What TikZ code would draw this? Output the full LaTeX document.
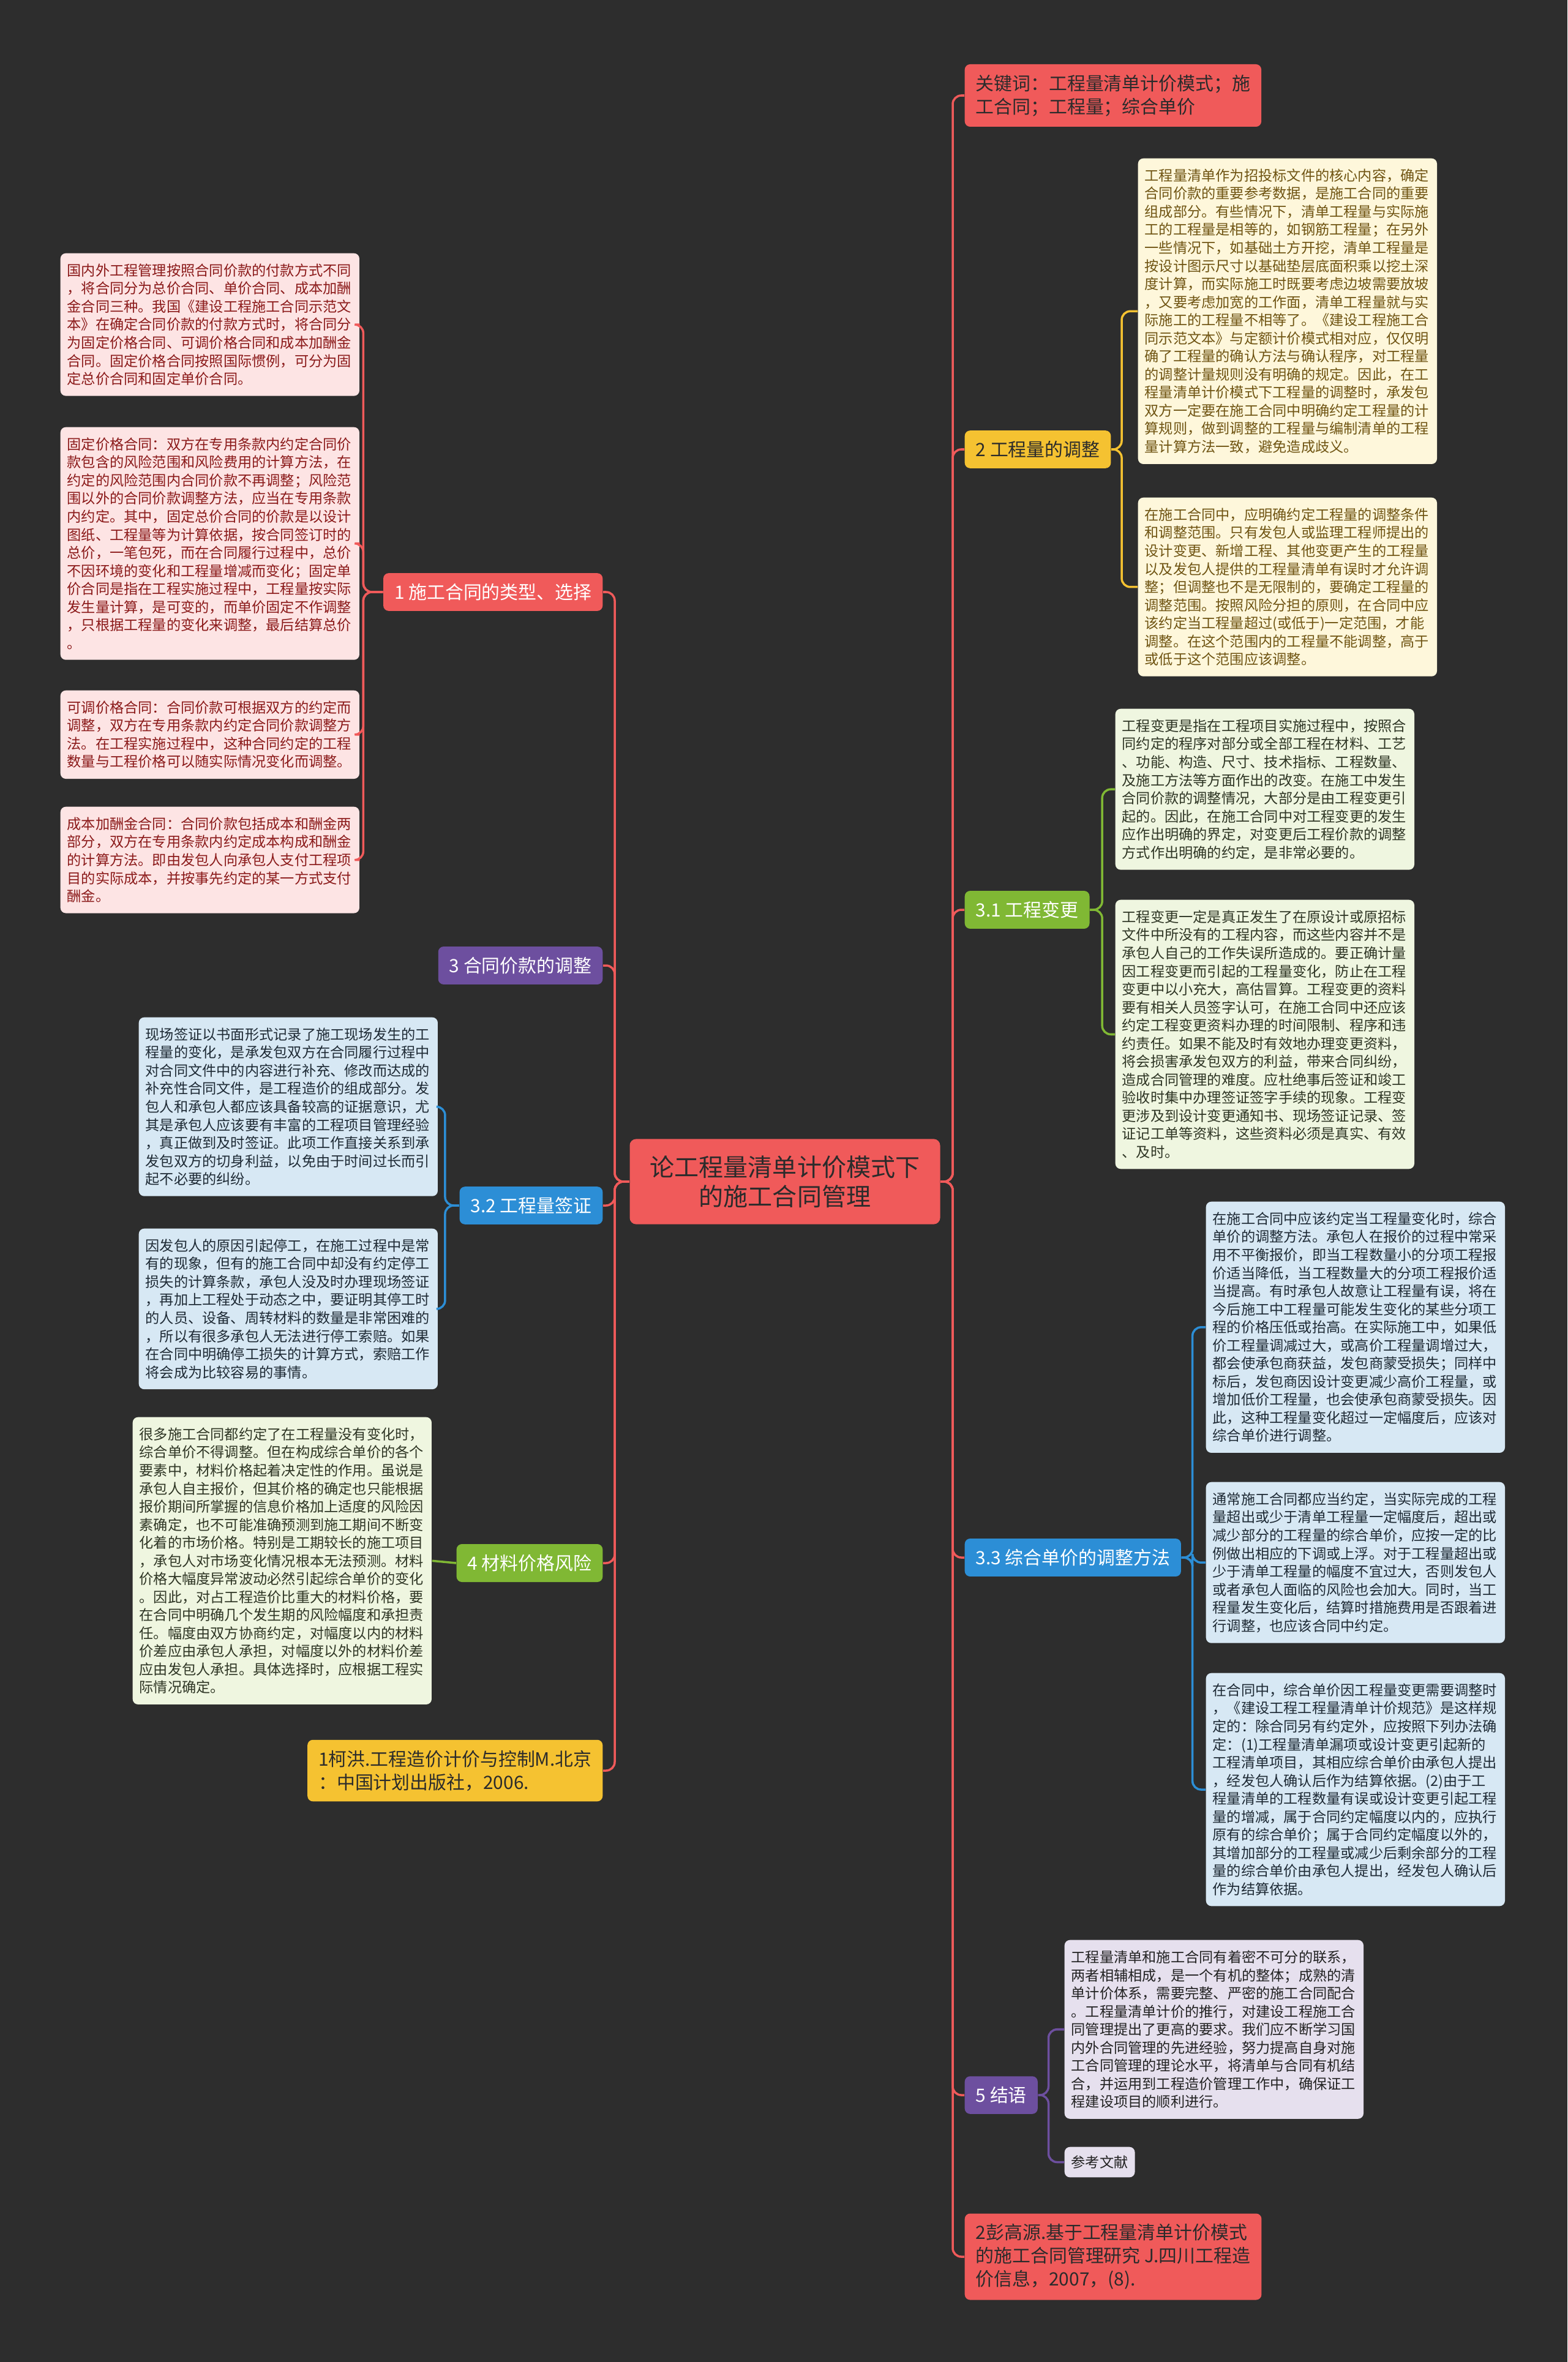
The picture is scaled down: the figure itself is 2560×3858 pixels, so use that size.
\documentclass[tikz,border=0pt]{standalone}
\usepackage{fontspec}
\usepackage{xcolor}
\usepackage{tikz}
\newfontfamily\cjk{Noto Sans CJK SC}
\definecolor{bgdark}{HTML}{2D2D2D}
\definecolor{darktext}{HTML}{2B2B2B}
\definecolor{redmain}{HTML}{F05A5A}
\definecolor{yellowmain}{HTML}{F5C231}
\definecolor{greenmain}{HTML}{80B834}
\definecolor{bluemain}{HTML}{2C8ED6}
\definecolor{purplemain}{HTML}{6D4F9F}
\definecolor{redleaf}{HTML}{FDE4E4}
\definecolor{redink}{HTML}{8B1A1A}
\definecolor{yellowleaf}{HTML}{FEF7DB}
\definecolor{yellowink}{HTML}{6F5412}
\definecolor{greenleaf}{HTML}{EFF6E0}
\definecolor{greenink}{HTML}{2E3524}
\definecolor{blueleaf}{HTML}{D7E8F4}
\definecolor{blueink}{HTML}{1E2A35}
\definecolor{purpleleaf}{HTML}{E6E0EE}
\definecolor{purpleink}{HTML}{222222}

\begin{document}
\begin{tikzpicture}[x=0.01cm,y=-0.01cm]
	 \tikzstyle{topic}=[rectangle,rounded corners=3pt,fill=redmain,text=darktext,align=center,inner xsep=0.33cm,inner ysep=0.27cm,font=\cjk\fontsize{11.4}{13.7}\selectfont]
	 \tikzstyle{branch}=[rectangle,rounded corners=2.5pt,text=white,align=left,inner xsep=0.18cm,inner ysep=0.17cm,font=\cjk\fontsize{8.5}{10.8}\selectfont]
	 \tikzstyle{leaf}=[rectangle,rounded corners=2.5pt,anchor=north west,align=left,text width=4.66cm,inner xsep=0.11cm,inner ysep=0.17cm,font=\cjk\fontsize{6.6}{8.4}\selectfont]
	 \tikzstyle{tag}=[rectangle,rounded corners=2.5pt,anchor=north west,inner xsep=0.11cm,inner ysep=0.14cm,font=\cjk\fontsize{6.6}{8.4}\selectfont]
	 \tikzstyle{edge}=[draw,line width=1pt,rounded corners=4pt]
	 \fill[bgdark] (0,0) rectangle (2560,3858);
	 \useasboundingbox (0,0) rectangle (2560,3858);
	 % centre
	 \node[topic] (root) at (1282,1930) {论工程量清单计价模式下\\的施工合同管理};
	 \coordinate (rs) at (1556,1930);
	 \coordinate (ls) at (1004,1930);
	 % right side
	 \node[branch,fill=redmain,text=darktext,anchor=west] (kw) at (1575,156) {关键词：工程量清单计价模式；施\\工合同；工程量；综合单价};
	 \node[branch,fill=yellowmain,text=darktext,anchor=west] (b2) at (1575,734) {2 工程量的调整};
	 \node[branch,fill=greenmain,anchor=west] (b31) at (1575,1486) {3.1 工程变更};
	 \node[branch,fill=bluemain,anchor=west] (b33) at (1575,2544) {3.3 综合单价的调整方法};
	 \node[branch,fill=purplemain,anchor=west] (b5) at (1575,3422) {5 结语};
	 \node[branch,fill=redmain,text=darktext,anchor=west] (r2) at (1575,3686) {2彭高源.基于工程量清单计价模式\\的施工合同管理研究 J.四川工程造\\价信息，2007，(8).};
	 \node[leaf,fill=yellowleaf,text=yellowink] (b2a) at (1858,258) {工程量清单作为招投标文件的核心内容，确定\\合同价款的重要参考数据，是施工合同的重要\\组成部分。有些情况下，清单工程量与实际施\\工的工程量是相等的，如钢筋工程量；在另外\\一些情况下，如基础土方开挖，清单工程量是\\按设计图示尺寸以基础垫层底面积乘以挖土深\\度计算，而实际施工时既要考虑边坡需要放坡\\，又要考虑加宽的工作面，清单工程量就与实\\际施工的工程量不相等了。《建设工程施工合\\同示范文本》与定额计价模式相对应，仅仅明\\确了工程量的确认方法与确认程序，对工程量\\的调整计量规则没有明确的规定。因此，在工\\程量清单计价模式下工程量的调整时，承发包\\双方一定要在施工合同中明确约定工程量的计\\算规则，做到调整的工程量与编制清单的工程\\量计算方法一致，避免造成歧义。};
	 \node[leaf,fill=yellowleaf,text=yellowink] (b2b) at (1858,812) {在施工合同中，应明确约定工程量的调整条件\\和调整范围。只有发包人或监理工程师提出的\\设计变更、新增工程、其他变更产生的工程量\\以及发包人提供的工程量清单有误时才允许调\\整；但调整也不是无限制的，要确定工程量的\\调整范围。按照风险分担的原则，在合同中应\\该约定当工程量超过(或低于)一定范围，才能\\调整。在这个范围内的工程量不能调整，高于\\或低于这个范围应该调整。};
	 \node[leaf,fill=greenleaf,text=greenink] (b31a) at (1821,1157) {工程变更是指在工程项目实施过程中，按照合\\同约定的程序对部分或全部工程在材料、工艺\\、功能、构造、尺寸、技术指标、工程数量、\\及施工方法等方面作出的改变。在施工中发生\\合同价款的调整情况，大部分是由工程变更引\\起的。因此，在施工合同中对工程变更的发生\\应作出明确的界定，对变更后工程价款的调整\\方式作出明确的约定，是非常必要的。};
	 \node[leaf,fill=greenleaf,text=greenink] (b31b) at (1821,1469) {工程变更一定是真正发生了在原设计或原招标\\文件中所没有的工程内容，而这些内容并不是\\承包人自己的工作失误所造成的。要正确计量\\因工程变更而引起的工程量变化，防止在工程\\变更中以小充大，高估冒算。工程变更的资料\\要有相关人员签字认可，在施工合同中还应该\\约定工程变更资料办理的时间限制、程序和违\\约责任。如果不能及时有效地办理变更资料，\\将会损害承发包双方的利益，带来合同纠纷，\\造成合同管理的难度。应杜绝事后签证和竣工\\验收时集中办理签证签字手续的现象。工程变\\更涉及到设计变更通知书、现场签证记录、签\\证记工单等资料，这些资料必须是真实、有效\\、及时。};
	 \node[leaf,fill=blueleaf,text=blueink] (b33a) at (1969,1962) {在施工合同中应该约定当工程量变化时，综合\\单价的调整方法。承包人在报价的过程中常采\\用不平衡报价，即当工程数量小的分项工程报\\价适当降低，当工程数量大的分项工程报价适\\当提高。有时承包人故意让工程量有误，将在\\今后施工中工程量可能发生变化的某些分项工\\程的价格压低或抬高。在实际施工中，如果低\\价工程量调减过大，或高价工程量调增过大，\\都会使承包商获益，发包商蒙受损失；同样中\\标后，发包商因设计变更减少高价工程量，或\\增加低价工程量，也会使承包商蒙受损失。因\\此，这种工程量变化超过一定幅度后，应该对\\综合单价进行调整。};
	 \node[leaf,fill=blueleaf,text=blueink] (b33b) at (1969,2420) {通常施工合同都应当约定，当实际完成的工程\\量超出或少于清单工程量一定幅度后，超出或\\减少部分的工程量的综合单价，应按一定的比\\例做出相应的下调或上浮。对于工程量超出或\\少于清单工程量的幅度不宜过大，否则发包人\\或者承包人面临的风险也会加大。同时，当工\\程量发生变化后，结算时措施费用是否跟着进\\行调整，也应该合同中约定。};
	 \node[leaf,fill=blueleaf,text=blueink] (b33c) at (1969,2732) {在合同中，综合单价因工程量变更需要调整时\\，《建设工程工程量清单计价规范》是这样规\\定的：除合同另有约定外，应按照下列办法确\\定：(1)工程量清单漏项或设计变更引起新的\\工程清单项目，其相应综合单价由承包人提出\\，经发包人确认后作为结算依据。(2)由于工\\程量清单的工程数量有误或设计变更引起工程\\量的增减，属于合同约定幅度以内的，应执行\\原有的综合单价；属于合同约定幅度以外的，\\其增加部分的工程量或减少后剩余部分的工程\\量的综合单价由承包人提出，经发包人确认后\\作为结算依据。};
	 \node[leaf,fill=purpleleaf,text=purpleink] (b5a) at (1738,3168) {工程量清单和施工合同有着密不可分的联系，\\两者相辅相成，是一个有机的整体；成熟的清\\单计价体系，需要完整、严密的施工合同配合\\。工程量清单计价的推行，对建设工程施工合\\同管理提出了更高的要求。我们应不断学习国\\内外合同管理的先进经验，努力提高自身对施\\工合同管理的理论水平，将清单与合同有机结\\合，并运用到工程造价管理工作中，确保证工\\程建设项目的顺利进行。};
	 \node[tag,fill=purpleleaf,text=purpleink] (b5b) at (1738,3506) {参考文献};
	 % left side
	 \node[branch,fill=redmain,anchor=east] (b1) at (985,967) {1 施工合同的类型、选择};
	 \node[branch,fill=purplemain,anchor=east] (b3) at (985,1577) {3 合同价款的调整};
	 \node[branch,fill=bluemain,anchor=east] (b32) at (985,1969) {3.2 工程量签证};
	 \node[branch,fill=greenmain,anchor=east] (b4) at (985,2553) {4 材料价格风险};
	 \node[branch,fill=yellowmain,text=darktext,anchor=east] (r1) at (985,2892) {1柯洪.工程造价计价与控制M.北京\\：中国计划出版社，2006.};
	 \node[leaf,fill=redleaf,text=redink] (b1a) at (98,413) {国内外工程管理按照合同价款的付款方式不同\\，将合同分为总价合同、单价合同、成本加酬\\金合同三种。我国《建设工程施工合同示范文\\本》在确定合同价款的付款方式时，将合同分\\为固定价格合同、可调价格合同和成本加酬金\\合同。固定价格合同按照国际惯例，可分为固\\定总价合同和固定单价合同。};
	 \node[leaf,fill=redleaf,text=redink] (b1b) at (98,697) {固定价格合同：双方在专用条款内约定合同价\\款包含的风险范围和风险费用的计算方法，在\\约定的风险范围内合同价款不再调整；风险范\\围以外的合同价款调整方法，应当在专用条款\\内约定。其中，固定总价合同的价款是以设计\\图纸、工程量等为计算依据，按合同签订时的\\总价，一笔包死，而在合同履行过程中，总价\\不因环境的变化和工程量增减而变化；固定单\\价合同是指在工程实施过程中，工程量按实际\\发生量计算，是可变的，而单价固定不作调整\\，只根据工程量的变化来调整，最后结算总价\\。};
	 \node[leaf,fill=redleaf,text=redink] (b1c) at (98,1127) {可调价格合同：合同价款可根据双方的约定而\\调整，双方在专用条款内约定合同价款调整方\\法。在工程实施过程中，这种合同约定的工程\\数量与工程价格可以随实际情况变化而调整。};
	 \node[leaf,fill=redleaf,text=redink] (b1d) at (98,1317) {成本加酬金合同：合同价款包括成本和酬金两\\部分，双方在专用条款内约定成本构成和酬金\\的计算方法。即由发包人向承包人支付工程项\\目的实际成本，并按事先约定的某一方式支付\\酬金。};
	 \node[leaf,fill=blueleaf,text=blueink] (b32a) at (226,1661) {现场签证以书面形式记录了施工现场发生的工\\程量的变化，是承发包双方在合同履行过程中\\对合同文件中的内容进行补充、修改而达成的\\补充性合同文件，是工程造价的组成部分。发\\包人和承包人都应该具备较高的证据意识，尤\\其是承包人应该要有丰富的工程项目管理经验\\，真正做到及时签证。此项工作直接关系到承\\发包双方的切身利益，以免由于时间过长而引\\起不必要的纠纷。};
	 \node[leaf,fill=blueleaf,text=blueink] (b32b) at (226,2006) {因发包人的原因引起停工，在施工过程中是常\\有的现象，但有的施工合同中却没有约定停工\\损失的计算条款，承包人没及时办理现场签证\\，再加上工程处于动态之中，要证明其停工时\\的人员、设备、周转材料的数量是非常困难的\\，所以有很多承包人无法进行停工索赔。如果\\在合同中明确停工损失的计算方式，索赔工作\\将会成为比较容易的事情。};
	 \node[leaf,fill=greenleaf,text=greenink] (b4a) at (216,2314) {很多施工合同都约定了在工程量没有变化时，\\综合单价不得调整。但在构成综合单价的各个\\要素中，材料价格起着决定性的作用。虽说是\\承包人自主报价，但其价格的确定也只能根据\\报价期间所掌握的信息价格加上适度的风险因\\素确定，也不可能准确预测到施工期间不断变\\化着的市场价格。特别是工期较长的施工项目\\，承包人对市场变化情况根本无法预测。材料\\价格大幅度异常波动必然引起综合单价的变化\\。因此，对占工程造价比重大的材料价格，要\\在合同中明确几个发生期的风险幅度和承担责\\任。幅度由双方协商约定，对幅度以内的材料\\价差应由承包人承担，对幅度以外的材料价差\\应由发包人承担。具体选择时，应根据工程实\\际情况确定。};
	 % connectors
	 \draw[edge,redmain] (root.east) -- (rs) |- (kw.west);
	 \draw[edge,redmain] (root.east) -- (rs) |- (b2.west);
	 \draw[edge,redmain] (root.east) -- (rs) |- (b31.west);
	 \draw[edge,redmain] (root.east) -- (rs) |- (b33.west);
	 \draw[edge,redmain] (root.east) -- (rs) |- (b5.west);
	 \draw[edge,redmain] (root.east) -- (rs) |- (r2.west);
	 \draw[edge,redmain] (root.west) -- (ls) |- (b1.east);
	 \draw[edge,redmain] (root.west) -- (ls) |- (b3.east);
	 \draw[edge,redmain] (root.west) -- (ls) |- (b32.east);
	 \draw[edge,redmain] (root.west) -- (ls) |- (b4.east);
	 \draw[edge,redmain] (root.west) -- (ls) |- (r1.east);
	 \draw[edge,yellowmain] (b2.east) -- ++(17,0) |- (b2a.west);
	 \draw[edge,yellowmain] (b2.east) -- ++(17,0) |- (b2b.west);
	 \draw[edge,greenmain] (b31.east) -- ++(20,0) |- (b31a.west);
	 \draw[edge,greenmain] (b31.east) -- ++(20,0) |- (b31b.west);
	 \draw[edge,bluemain] (b33.east) -- ++(18,0) |- (b33a.west);
	 \draw[edge,bluemain] (b33.east) -- ++(18,0) |- (b33b.west);
	 \draw[edge,bluemain] (b33.east) -- ++(18,0) |- (b33c.west);
	 \draw[edge,purplemain] (b5.east) -- ++(17,0) |- (b5a.west);
	 \draw[edge,purplemain] (b5.east) -- ++(17,0) |- (b5b.west);
	 \draw[edge,redmain] (b1.west) -- ++(-32,0) |- (b1a.east);
	 \draw[edge,redmain] (b1.west) -- ++(-32,0) |- (b1b.east);
	 \draw[edge,redmain] (b1.west) -- ++(-32,0) |- (b1c.east);
	 \draw[edge,redmain] (b1.west) -- ++(-32,0) |- (b1d.east);
	 \draw[edge,bluemain] (b32.west) -- ++(-23,0) |- (b32a.east);
	 \draw[edge,bluemain] (b32.west) -- ++(-23,0) |- (b32b.east);
	 \draw[edge,greenmain] (b4.west) -- (b4a.east);
\end{tikzpicture}
\end{document}
